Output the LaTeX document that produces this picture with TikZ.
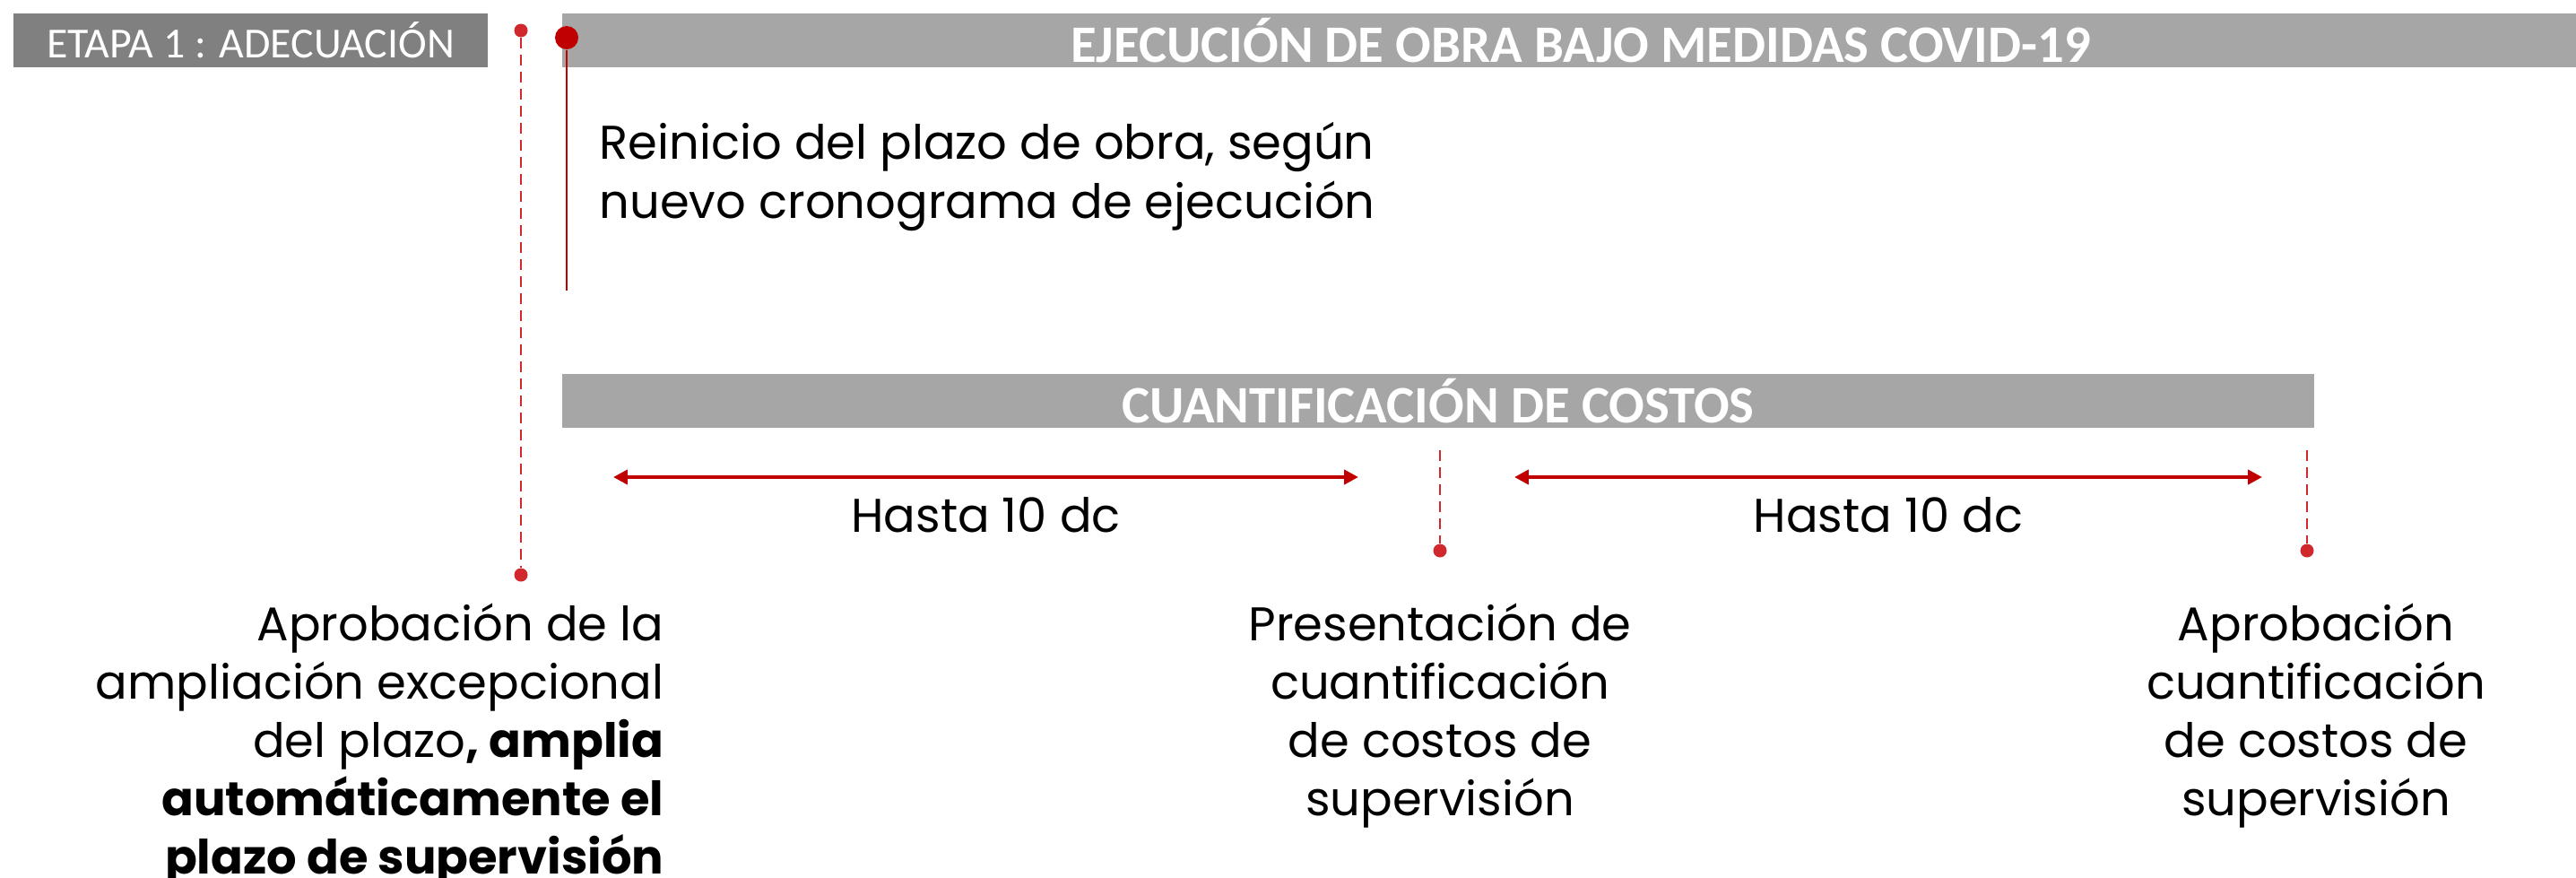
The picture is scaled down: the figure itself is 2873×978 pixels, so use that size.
\documentclass[tikz,border=0pt]{standalone}
\usepackage{fontspec}
\setmainfont{Poppins}
\newfontfamily\headfont{Carlito}
\usetikzlibrary{arrows.meta}
\definecolor{barGrey}{HTML}{A6A6A6}
\definecolor{stageGrey}{HTML}{808080}
\definecolor{lineRed}{HTML}{C00000}
\definecolor{dashRed}{HTML}{D0282C}
\tikzset{
  stagebox/.style={rectangle, fill=stageGrey, text=white, font=\headfont\fontsize{13.6}{15}\selectfont, minimum width=5.29cm, minimum height=0.6cm, inner sep=0pt},
  barbox/.style={rectangle, fill=barGrey, text=white, font=\headfont\bfseries\fontsize{16.7}{19}\selectfont, minimum width=#1, minimum height=0.6cm, inner sep=0pt},
  bodytext/.style={font=\fontsize{15}{18.5}\selectfont, inner sep=0pt},
  bigdot/.style={circle, fill=lineRed, inner sep=0pt, minimum size=0.26cm},
  smalldot/.style={circle, fill=dashRed, inner sep=0pt, minimum size=0.15cm},
  dashline/.style={draw=dashRed, line width=0.8pt, dash pattern=on 3.4pt off 2pt},
  solidline/.style={draw=lineRed, line width=0.7pt},
  spanarrow/.style={{Triangle[length=4.5pt,width=4.5pt]}-{Triangle[length=4.5pt,width=4.5pt]}, draw=lineRed, line width=1.1pt},
}
\begin{document}
\begin{tikzpicture}[x=0.01cm,y=-0.01cm]
  \useasboundingbox (0,0) rectangle (2873,978);

  % header bars
  \node[stagebox] (etapa) at (279.5,45) {ETAPA 1 : ADECUACIÓN};
  \node[barbox=22.45cm] (ejecucion) at (1750.5,45) {\hspace{0.25cm}EJECUCIÓN DE OBRA BAJO MEDIDAS COVID-19};
  \node[barbox=19.52cm] (cuantif) at (1604,447) {CUANTIFICACIÓN DE COSTOS};

  % milestones
  \node[smalldot] (ampTop) at (581,34) {};
  \node[smalldot] (ampBot) at (581,641) {};
  \draw[dashline] (ampTop) -- (ampBot);

  \node[bigdot] (reinicioDot) at (632,42) {};
  \coordinate (reinicioEnd) at (632,324);
  \draw[solidline] (reinicioDot) -- (reinicioEnd);

  \coordinate (presTop) at (1606,502);
  \node[smalldot] (presDot) at (1606,614) {};
  \draw[dashline] (presTop) -- (presDot);

  \coordinate (aprobTop) at (2573,502);
  \node[smalldot] (aprobDot) at (2573,614) {};
  \draw[dashline] (aprobTop) -- (aprobDot);

  % plazos
  \coordinate (span1L) at (684,532);
  \coordinate (span1R) at (1515,532);
  \coordinate (span2L) at (1689,532);
  \coordinate (span2R) at (2523,532);
  \draw[spanarrow] (span1L) -- node[bodytext, below=0.21cm] (hasta1) {Hasta 10 dc} (span1R);
  \draw[spanarrow] (span2L) -- node[bodytext, below=0.21cm] (hasta2) {Hasta 10 dc} (span2R);

  % textos
  \node[bodytext, align=left, anchor=north west] (reinicioTxt) at (668,136)
    {Reinicio del plazo de obra, según\\nuevo cronograma de ejecución};
  \node[bodytext, align=right, anchor=north east] (ampliaTxt) at (741,672)
    {Aprobación de la\\ampliación excepcional\\del plazo\textbf{, amplia}\\\textbf{automáticamente el}\\\textbf{plazo de supervisión}};
  \node[bodytext, align=center, anchor=north] (presTxt) at (1606,672)
    {Presentación de\\cuantificación\\de costos de\\supervisión};
  \node[bodytext, align=center, anchor=north] (aprobTxt) at (2583,672)
    {Aprobación\\cuantificación\\de costos de\\supervisión};
\end{tikzpicture}
\end{document}
